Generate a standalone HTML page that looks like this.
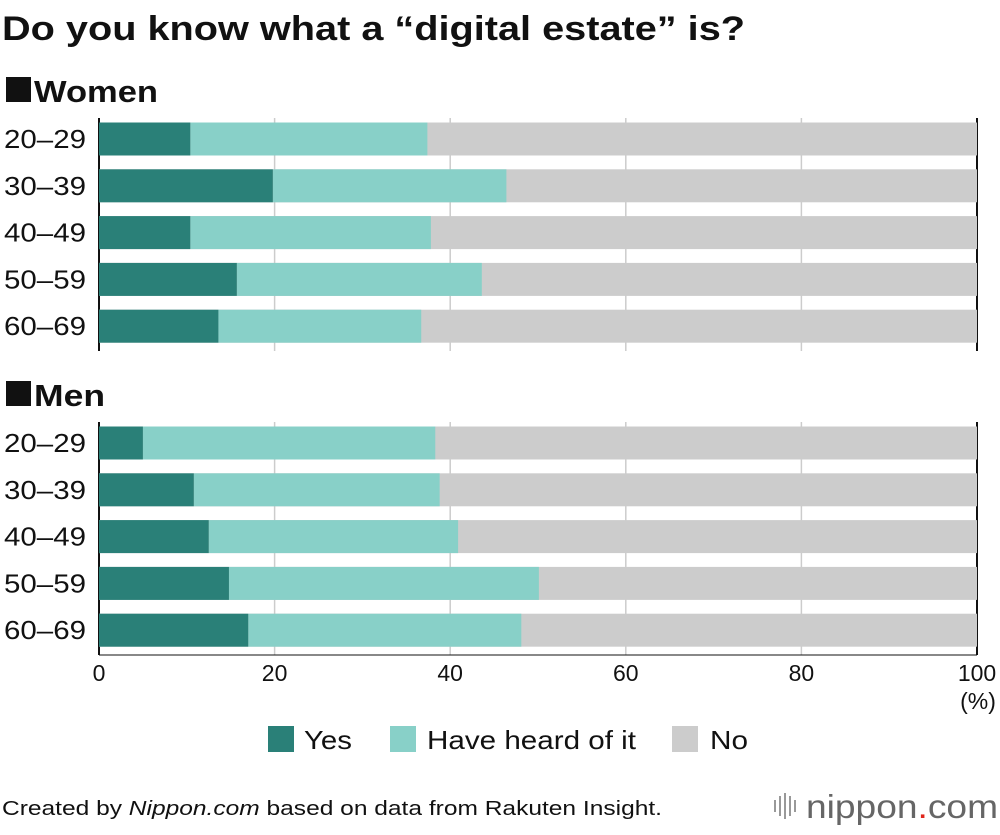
<!DOCTYPE html>
<html><head><meta charset="utf-8"><style>
body{margin:0;background:#fff;font-family:"Liberation Sans",Arial,sans-serif;}
svg text{font-family:"Liberation Sans",Arial,sans-serif;}
</style></head><body>
<svg id="chart" width="1000" height="830" xmlns="http://www.w3.org/2000/svg">
<text x="2" y="40" font-size="34" font-weight="bold" fill="#111" textLength="743" lengthAdjust="spacingAndGlyphs">Do you know what a “digital estate” is?</text>
<rect x="6" y="77" width="25" height="25" fill="#111"/>
<text x="34" y="102" font-size="31" font-weight="bold" fill="#111" textLength="124" lengthAdjust="spacingAndGlyphs">Women</text>
<rect x="6" y="381" width="25" height="25" fill="#111"/>
<text x="34" y="406" font-size="31" font-weight="bold" fill="#111" textLength="71" lengthAdjust="spacingAndGlyphs">Men</text>
<g id="grid"></g><g id="bars"></g><g id="labels"></g>
<text x="978" y="709" font-size="23" text-anchor="middle" fill="#111">(%)</text>
<g>
<rect x="268" y="726" width="26" height="26" fill="#2a8078"/>
<text x="304" y="749" font-size="26" fill="#111" textLength="48" lengthAdjust="spacingAndGlyphs">Yes</text>
<rect x="390" y="726" width="26" height="26" fill="#88d0c8"/>
<text x="427" y="749" font-size="26" fill="#111" textLength="209" lengthAdjust="spacingAndGlyphs">Have heard of it</text>
<rect x="672" y="726" width="26" height="26" fill="#cccccc"/>
<text x="710" y="749" font-size="26" fill="#111" textLength="38" lengthAdjust="spacingAndGlyphs">No</text>
</g>
<text x="2" y="815" font-size="20" fill="#111" textLength="660" lengthAdjust="spacingAndGlyphs">Created by <tspan font-style="italic">Nippon.com</tspan> based on data from Rakuten Insight.</text>
<g>
<rect x="774" y="800" width="2" height="12" fill="#999"/><rect x="779" y="796" width="2" height="20" fill="#999"/><rect x="784" y="793" width="2" height="26" fill="#999"/><rect x="789" y="796" width="2" height="20" fill="#999"/><rect x="794" y="800" width="2" height="12" fill="#999"/>
<text x="806" y="818" font-size="33" fill="#666" textLength="192" lengthAdjust="spacingAndGlyphs">nippon<tspan fill="#e0261b">.</tspan>com</text>
</g>
</svg>
<script>
const ageGroups=["20–29","30–39","40–49","50–59","60–69"];
const womenYes=[10.4,19.8,10.4,15.7,13.6];
const womenHeard=[27.0,26.6,27.4,27.9,23.1];
const menYes=[5.0,10.8,12.5,14.8,17.0];
const menHeard=[33.3,28.0,28.4,35.3,31.1];
const xTicks=[0,20,40,60,80,100];
const NS="http://www.w3.org/2000/svg";
const x=v=>99+v*8.78;
function mk(tag,attrs,parent){const e=document.createElementNS(NS,tag);for(const k in attrs)e.setAttribute(k,attrs[k]);parent.appendChild(e);return e;}
const grid=document.getElementById('grid'),bars=document.getElementById('bars'),labels=document.getElementById('labels');
const panels=[{name:'women',top:118,yes:womenYes,heard:womenHeard,first:139},{name:'men',top:422,yes:menYes,heard:menHeard,first:443}];
panels.forEach(p=>{
  const bottom=p.top+233;
  xTicks.forEach(t=>{
    const l=mk('line',{x1:x(t),x2:x(t),y1:p.top,y2:bottom,stroke:(t===0||t===100)?'#111':'#ccc','stroke-width':(t===0||t===100)?2:1.5},grid);
    
    
  });
  ageGroups.forEach((g,i)=>{
    const cy=p.first+i*46.8, y0=cy-16.5, h=33;
    const yes=p.yes[i], heard=p.heard[i];
    const r0=mk('rect',{x:x(0),y:y0,width:x(100)-x(0),height:h,fill:'#cccccc'},bars);
    
    
    const r2=mk('rect',{x:x(yes),y:y0,width:x(yes+heard)-x(yes),height:h,fill:'#88d0c8'},bars);
    
    
    const r1=mk('rect',{x:x(0),y:y0,width:x(yes)-x(0),height:h,fill:'#2a8078'},bars);
    
    
    const t=mk('text',{x:4,y:cy+9,'font-size':26,fill:'#111',textLength:82,lengthAdjust:'spacingAndGlyphs'},labels);
    t.textContent=g;
    
    
  });
});
const axisLine=mk('line',{x1:x(0),x2:x(100),y1:655,y2:655,stroke:'#111','stroke-width':1},grid);


xTicks.forEach(t=>{
  const e=mk('text',{x:x(t),y:681,'font-size':23,'text-anchor':'middle',fill:'#111'},labels);
  e.textContent=t;
  
  
});
</script>
</body></html>
